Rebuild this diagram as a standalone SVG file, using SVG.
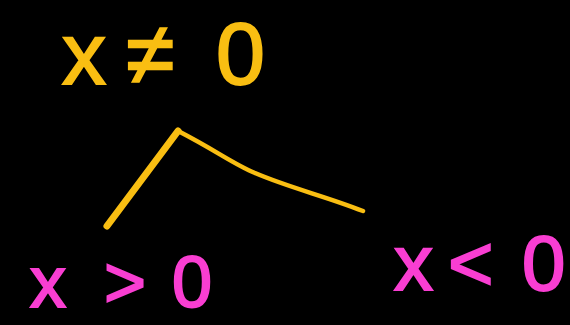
<svg xmlns="http://www.w3.org/2000/svg" width="570" height="325" viewBox="0 0 570 325">
<style>
.y{fill:#F9BE12;stroke:#F9BE12;stroke-width:2;font-family:"Liberation Sans",Arial,sans-serif}
.p{fill:#F93ED2;stroke:#F93ED2;stroke-width:2;font-family:"Liberation Sans",Arial,sans-serif}
.ln{fill:none;stroke:#F9BE12;stroke-linecap:round;stroke-linejoin:round}
</style>
<rect width="570" height="325" fill="#000"/>
<g id="root">
<text class="y" font-size="88" y="84"><tspan x="62">x</tspan><tspan x="126">≠</tspan><tspan x="216">0</tspan></text>
</g>
<g id="pos">
<text class="p" font-size="72" y="307"><tspan x="30">x</tspan><tspan x="104">&gt;</tspan><tspan x="172">0</tspan></text>
</g>
<g id="neg">
<text class="p" font-size="78" y="290"><tspan x="394">x</tspan><tspan x="448">&lt;</tspan><tspan x="522">0</tspan></text>
</g>
<g id="connectors">
<path class="ln" stroke-width="7" d="M107,226 L178,131"/>
<path class="ln" stroke-width="4.5" d="M180,132 C215,150 235,165 255,173 C290,188 325,196 363,211"/>
</g>
</svg>
